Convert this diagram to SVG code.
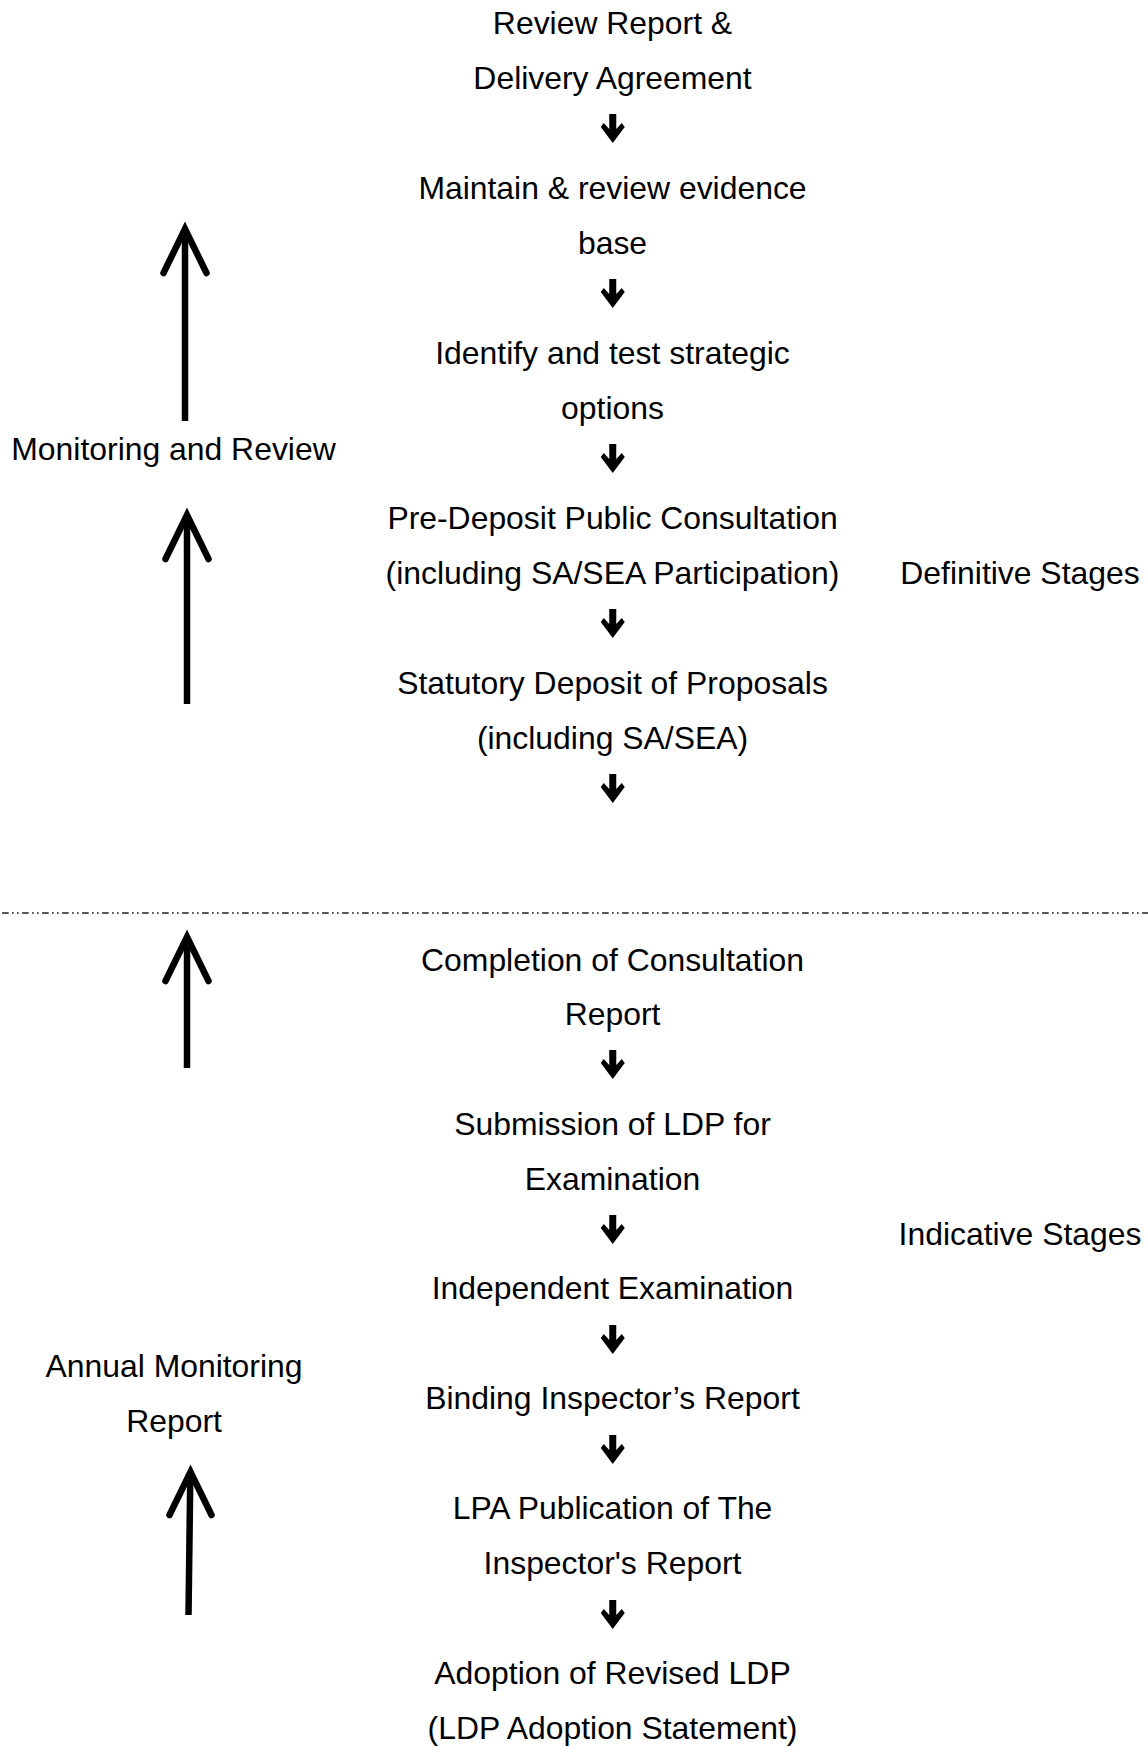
<svg xmlns="http://www.w3.org/2000/svg" xmlns:xlink="http://www.w3.org/1999/xlink" width="1148" height="1746" viewBox="0 0 1148 1746">
  <style>
    text { font-family: "Liberation Sans", Arial, sans-serif; font-size: 31.9px; fill: #000; }
    .c { text-anchor: middle; }
    .big { fill: none; stroke: #000; stroke-width: 6.5; stroke-linejoin: miter; }
    .shaft { stroke-linecap: butt; }
    .head { stroke-linecap: round; }
    .divider { stroke: #222; stroke-width: 1.3; stroke-dasharray: 6.7 3.3 1.7 3.3 1.7 3.3; fill: none; }
  </style>
  <defs>
    <!-- heavy down arrow, origin at the tip -->
    <path id="step" d="M-3.5,-29 H3.5 V-14 L9,-20 L12,-16 L0,0 L-12,-16 L-9,-20 L-3.5,-14 Z" fill="#000"/>
  </defs>
  <rect width="1148" height="1746" fill="#fff"/>

  <!-- stage flow (centre column) -->
  <g id="n-review"><text x="612.5" y="33.5" class="c">Review Report &amp;</text><text x="612.5" y="88.5" class="c">Delivery Agreement</text></g>
  <g id="n-evidence"><text x="612.5" y="198.5" class="c">Maintain &amp; review evidence</text><text x="612.5" y="253.5" class="c">base</text></g>
  <g id="n-options"><text x="612.5" y="363.5" class="c">Identify and test strategic</text><text x="612.5" y="418.5" class="c">options</text></g>
  <g id="n-predeposit"><text x="612.5" y="528.5" class="c">Pre-Deposit Public Consultation</text><text x="612.5" y="583.5" class="c">(including SA/SEA Participation)</text></g>
  <g id="n-deposit"><text x="612.5" y="693.5" class="c">Statutory Deposit of Proposals</text><text x="612.5" y="748.5" class="c">(including SA/SEA)</text></g>
  <g id="n-consultation"><text x="612.5" y="970.5" class="c">Completion of Consultation</text><text x="612.5" y="1025" class="c">Report</text></g>
  <g id="n-submission"><text x="612.5" y="1134.5" class="c">Submission of LDP for</text><text x="612.5" y="1189.5" class="c">Examination</text></g>
  <g id="n-examination"><text x="612.5" y="1299" class="c">Independent Examination</text></g>
  <g id="n-binding"><text x="612.5" y="1409" class="c">Binding Inspector’s Report</text></g>
  <g id="n-publication"><text x="612.5" y="1519" class="c">LPA Publication of The</text><text x="612.5" y="1574" class="c">Inspector's Report</text></g>
  <g id="n-adoption"><text x="612.5" y="1684" class="c">Adoption of Revised LDP</text><text x="612.5" y="1739" class="c">(LDP Adoption Statement)</text></g>

  <!-- side labels -->
  <g id="n-monitoring"><text x="173.5" y="460" class="c">Monitoring and Review</text></g>
  <g id="n-annual"><text x="174" y="1377" class="c">Annual Monitoring</text><text x="174" y="1432" class="c">Report</text></g>
  <g id="n-definitive"><text x="1020" y="583.5" class="c">Definitive Stages</text></g>
  <g id="n-indicative"><text x="1020" y="1245" class="c">Indicative Stages</text></g>

  <!-- boundary between definitive and indicative stages -->
  <g id="divider"><line class="divider" x1="2" y1="913" x2="1148" y2="913"/></g>

  <g id="connectors">
    <!-- step arrows between stages -->
    <use xlink:href="#step" x="612.75" y="143"/>
    <use xlink:href="#step" x="612.75" y="308"/>
    <use xlink:href="#step" x="612.75" y="473"/>
    <use xlink:href="#step" x="612.75" y="638"/>
    <use xlink:href="#step" x="612.75" y="803"/>
    <use xlink:href="#step" x="612.75" y="1079"/>
    <use xlink:href="#step" x="612.75" y="1244"/>
    <use xlink:href="#step" x="612.75" y="1354"/>
    <use xlink:href="#step" x="612.75" y="1464"/>
    <use xlink:href="#step" x="612.75" y="1629"/>

    <!-- monitoring feedback arrows -->
    <path class="big shaft" d="M185,421 V232"/>
    <path class="big head" d="M163.5,273 L185,229 L206.5,273"/>
    <path class="big shaft" d="M187,704 V518"/>
    <path class="big head" d="M165.5,559 L187,515 L208.5,559"/>
    <path class="big shaft" d="M187,1068 V940"/>
    <path class="big head" d="M165.5,981 L187,937 L208.5,981"/>
    <path class="big shaft" d="M188.5,1615 L190.3,1475"/>
    <path class="big head" d="M169.5,1515 L190.5,1472 L211.5,1515"/>
  </g>
</svg>
